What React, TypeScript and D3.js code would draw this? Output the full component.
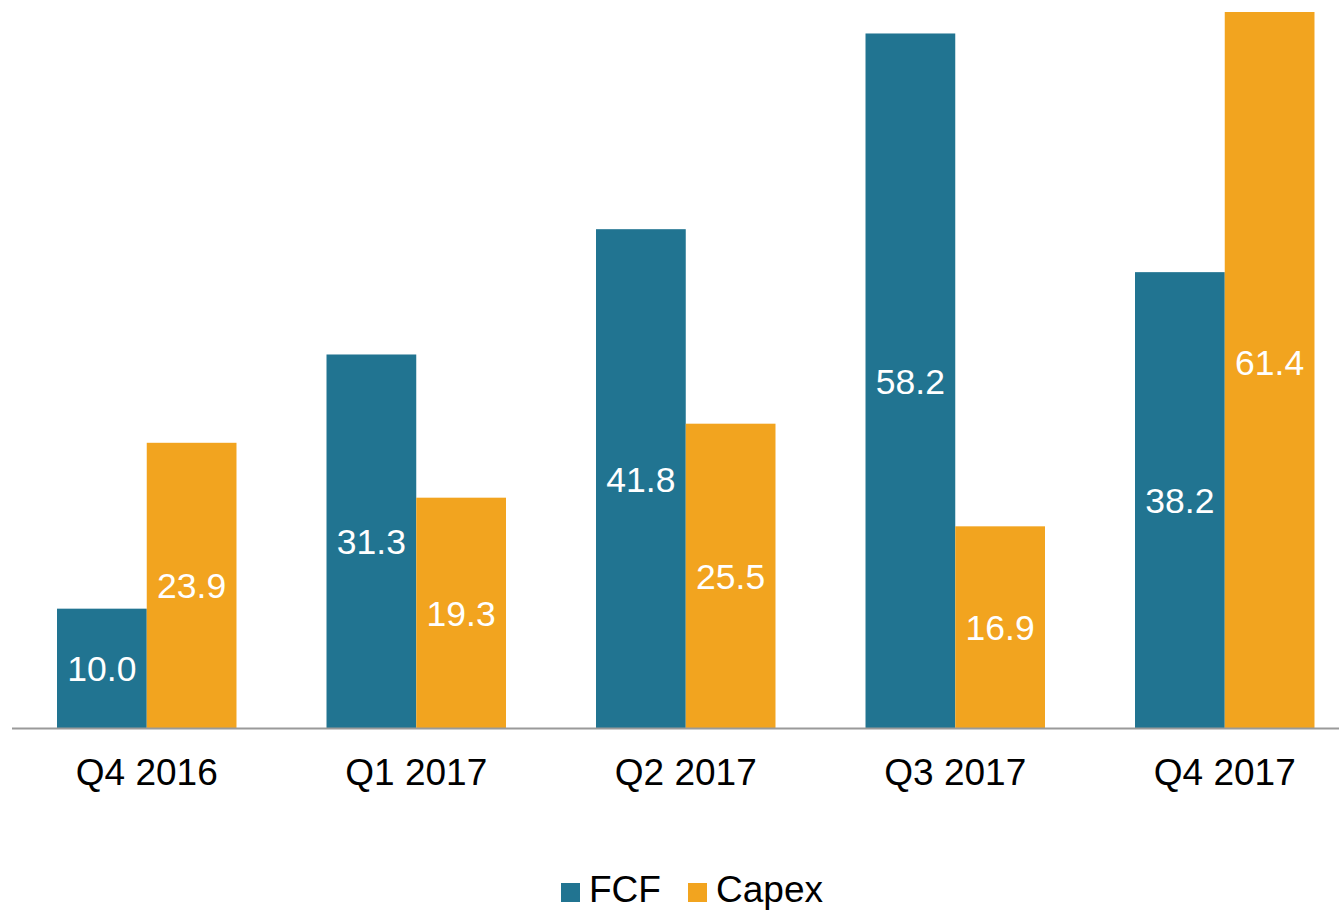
import React, { useEffect, useRef } from "react";
import * as d3 from "d3";

const categories = ["Q4 2016", "Q1 2017", "Q2 2017", "Q3 2017", "Q4 2017"];
const seriesNames = ["FCF", "Capex"];
const fcfValues = [10.0, 31.3, 41.8, 58.2, 38.2];
const capexValues = [23.9, 19.3, 25.5, 16.9, 61.4];
const colors = ["#217491", "#F2A41F"];

const W = 1339;
const H = 910;

const App = () => {
  const svgRef = useRef<SVGSVGElement>(null);

  useEffect(() => {
    const svg = d3.select(svgRef.current);
    svg.selectAll("*").remove();

    const font = "'Liberation Sans', Arial, sans-serif";
    const baseY = 728;
    const topY = 12;

    // outer band range runs past the right edge, as in the original
    const x = d3
      .scaleBand()
      .domain(categories)
      .range([12, 1359.5])
      .paddingInner(0.334)
      .paddingOuter(0.167);
    const xs = d3.scaleBand().domain(seriesNames).range([0, x.bandwidth()]);
    const y = d3.scaleLinear().domain([0, 60]).range([baseY, topY]);

    const rows = categories.map((c, i) => ({
      cat: c,
      vals: [fcfValues[i], capexValues[i]],
    }));

    const group = svg
      .selectAll(".grp")
      .data(rows)
      .enter()
      .append("g")
      .attr("transform", (d) => `translate(${x(d.cat)},0)`);

    const bars = group
      .selectAll(".bar")
      .data((d) => d.vals.map((v, k) => ({ v, k })))
      .enter();

    // bars clipped at the top of the plot area
    bars
      .append("rect")
      .attr("x", (d) => xs(seriesNames[d.k])!)
      .attr("width", xs.bandwidth())
      .attr("y", (d) => Math.max(topY, y(d.v)))
      .attr("height", (d) => baseY - Math.max(topY, y(d.v)))
      .attr("fill", (d) => colors[d.k]);

    // value labels centred on the (unclipped) bar
    bars
      .append("text")
      .attr("x", (d) => xs(seriesNames[d.k])! + xs.bandwidth() / 2)
      .attr("y", (d) => (baseY + y(d.v)) / 2 + 13)
      .attr("text-anchor", "middle")
      .attr("fill", "#fff")
      .style("font-family", font)
      .style("font-size", "35.5px")
      .text((d) => d.v.toFixed(1));

    // baseline
    svg
      .append("line")
      .attr("x1", 12)
      .attr("x2", W)
      .attr("y1", baseY + 0.5)
      .attr("y2", baseY + 0.5)
      .attr("stroke", "#9a9a9a")
      .attr("stroke-width", 2);

    // category labels
    svg
      .selectAll(".cat")
      .data(categories)
      .enter()
      .append("text")
      .attr("x", (d) => x(d)! + x.bandwidth() / 2)
      .attr("y", 785)
      .attr("text-anchor", "middle")
      .attr("fill", "#000")
      .style("font-family", font)
      .style("font-size", "37px")
      .text((d) => d);

    // legend
    const legendX = [561, 688];
    const lg = svg
      .selectAll(".lg")
      .data(seriesNames)
      .enter()
      .append("g")
      .attr("transform", (d, i) => `translate(${legendX[i]},0)`);
    lg.append("rect")
      .attr("x", 0)
      .attr("y", 883)
      .attr("width", 19)
      .attr("height", 19)
      .attr("fill", (d, i) => colors[i]);
    lg.append("text")
      .attr("x", 28)
      .attr("y", 902)
      .attr("fill", "#000")
      .style("font-family", font)
      .style("font-size", "37px")
      .text((d) => d);
  }, []);

  return (
    <svg
      ref={svgRef}
      width={W}
      height={H}
      style={{ position: "absolute", left: 0, top: 0, background: "#fff" }}
    ></svg>
  );
};

export default App;
